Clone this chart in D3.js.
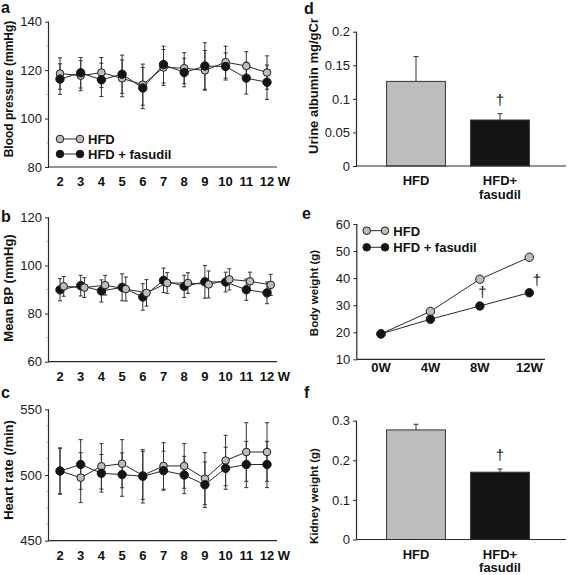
<!DOCTYPE html>
<html><head><meta charset="utf-8">
<script src="https://cdn.jsdelivr.net/npm/d3@7"></script>
<style>
body{margin:0;background:#fff;}
svg{display:block;font-family:"Liberation Sans",Arial,sans-serif;}
</style></head><body>
<script>
// ---------- DATA ----------
const weeks = [2,3,4,5,6,7,8,9,10,11,12];
// a: Blood pressure
const bpHFD = [118.6,117.7,119,116.6,114,121.1,120.8,119.9,123.3,121.7,119];
const bpHFDerr = [6.5,6.2,6.2,7.6,8.5,7.4,6.4,8.2,6.6,5.9,6.9];
const bpFas = [116.3,118.9,116,118.3,112.6,122.3,119,121.7,121.5,116.7,115];
const bpFasErr = [6.3,6.3,6.9,7.9,8.5,7.6,5.9,9.6,5.6,6.6,7.1];
// b: Mean BP
const mbpHFD = [91.3,90.8,91.8,90.2,88.6,92.7,92.7,92.1,94.2,93.4,91.9];
const mbpHFDerr = [4.1,4.1,4.1,5,5.5,4.3,4.3,5.6,4.4,3.8,4.4];
const mbpFas = [89.9,91.6,89.4,90.9,86.9,93.8,91.3,93.2,93.1,89.9,88.6];
const mbpFasErr = [4.6,4.3,4.6,5.6,5.5,5.1,4.6,6.8,4.1,4.4,4.5];
// c: Heart rate
const hrHFD = [503,498,506.6,508.6,499.7,506.9,506.9,497.2,511,517.5,517.5];
const hrHFDerr = [17.5,19,17.3,18.3,18.3,17.7,17,19.8,19.2,22.3,22.3];
const hrFas = [503,508,501.3,500.3,499,503.3,500,492.6,505.1,508,508];
const hrFasErr = [17.5,18.9,14.3,16.5,20.3,14.9,14.2,17.4,16,17.6,17.6];
// d: Urine albumin
const groups = ["HFD","HFD+ fasudil"];
const albumin = [0.126,0.0685];
const albuminErr = [0.037,0.0095];
// e: Body weight
const bwWeeks = ["0W","4W","8W","12W"];
const bwHFD = [19.4,27.7,39.6,47.7];
const bwFas = [19.4,24.8,29.7,34.6];
// f: Kidney weight
const kidney = [0.2767,0.17];
const kidneyErr = [0.0143,0.008];
const seriesNames = ["HFD","HFD + fasudil"];

// ---------- STYLE ----------
const GRAY = "#bdbdbd", BLACK = "#141414", INK = "#2a2a2a";
const W = 568, H = 575;
const svg = d3.select("body").append("svg").attr("width",W).attr("height",H);

function yAxis(g, y, x0, ticks, minor, fmt){
  if(minor){
    g.selectAll(null).data(minor).join("line")
      .attr("x1",x0-3).attr("x2",x0).attr("y1",d=>y(d)).attr("y2",d=>y(d))
      .attr("stroke","#c8c8c8").attr("stroke-width",1);
  }
  const ax = g.append("g").attr("transform",`translate(${x0},0)`)
    .call(d3.axisLeft(y).tickValues(ticks).tickSize(4).tickPadding(3).tickFormat(fmt||(d=>d)));
  ax.select(".domain").attr("stroke",INK).attr("stroke-width",1.2).attr("d",`M-0.5,${y.range()[0]}V${y.range()[1]}`);
  ax.selectAll(".tick line").attr("stroke",INK);
  ax.selectAll("text").attr("font-size",13).attr("fill","#1a1a1a").attr("font-family","Liberation Sans, Arial");
}
function xAxisLine(g, yPix, x1, x2){
  g.append("line").attr("x1",x1).attr("x2",x2).attr("y1",yPix).attr("y2",yPix)
    .attr("stroke",INK).attr("stroke-width",1.2);
}
function yTitle(g, text, x, y, fs){
  g.append("text").attr("transform",`translate(${x},${y}) rotate(-90)`)
    .attr("text-anchor","middle").attr("font-weight","bold").attr("font-size",fs||13).attr("fill","#111").text(text);
}
function panelLabel(text,x,y){
  svg.append("text").attr("x",x).attr("y",y).attr("font-weight","bold").attr("font-size",16).attr("fill","#111").text(text);
}
function dagger(g, x, y){
  g.append("text").attr("x",x).attr("y",y).attr("text-anchor","middle")
    .attr("font-family","Liberation Sans, Arial, sans-serif").attr("font-size",15).attr("fill","#111").text("†");
}

function linePanel(cfg){
  const g = svg.append("g");
  const x = d3.scaleLinear().domain([2,12]).range([60,267]);
  const y = d3.scaleLinear().domain(cfg.dom).range(cfg.range);
  yAxis(g, y, 49, cfg.ticks, cfg.minor);
  xAxisLine(g, cfg.range[0], 48.5, 277);
  g.selectAll(null).data(weeks).join("text")
    .attr("x",d=>x(d)).attr("y",cfg.range[0]+19).attr("text-anchor","middle")
    .attr("font-weight","bold").attr("font-size",13).attr("fill","#111").text(d=>d);
  g.append("text").attr("x",284).attr("y",cfg.range[0]+19).attr("text-anchor","middle")
    .attr("font-weight","bold").attr("font-size",13).attr("fill","#111").text("W");
  const series = [
    {vals:cfg.hfd, err:cfg.hfdErr, fill:GRAY, off:cfg.grayOff||0, r:3.8},
    {vals:cfg.fas, err:cfg.fasErr, fill:BLACK, off:0, r:4.2}
  ];
  const order = cfg.grayTop ? [series[1],series[0]] : series;
  order.forEach(s=>{
    weeks.forEach((w,i)=>{
      const xx = x(w)+s.off, y1 = y(s.vals[i]+s.err[i]), y2 = y(s.vals[i]-s.err[i]);
      g.append("line").attr("x1",xx).attr("x2",xx).attr("y1",y1).attr("y2",y2).attr("stroke","#333").attr("stroke-width",1);
      [y1,y2].forEach(yy=>g.append("line").attr("x1",xx-2).attr("x2",xx+2).attr("y1",yy).attr("y2",yy).attr("stroke","#333").attr("stroke-width",1));
    });
  });
  order.forEach(s=>{
    const line = d3.line().x((d,i)=>x(weeks[i])+s.off).y(d=>y(d));
    g.append("path").attr("d",line(s.vals)).attr("fill","none").attr("stroke",INK).attr("stroke-width",1);
  });
  order.forEach(s=>{
    g.selectAll(null).data(s.vals).join("circle")
      .attr("cx",(d,i)=>x(weeks[i])+s.off).attr("cy",d=>y(d)).attr("r",s.r)
      .attr("fill",s.fill).attr("stroke","#1a1a1a").attr("stroke-width",1);
  });
  return g;
}

function legend(g, x1, x2, tx, y1, y2){
  [[GRAY,y1,seriesNames[0]],[BLACK,y2,seriesNames[1]]].forEach(([c,yy,t])=>{
    g.append("line").attr("x1",x1).attr("x2",x2).attr("y1",yy).attr("y2",yy).attr("stroke",INK).attr("stroke-width",1);
    [x1,x2].forEach(xx=>g.append("circle").attr("cx",xx).attr("cy",yy).attr("r",3.8).attr("fill",c).attr("stroke","#1a1a1a"));
    g.append("text").attr("x",tx).attr("y",yy+5).attr("font-weight","bold").attr("font-size",13).attr("fill","#111").text(t);
  });
}

// Panel a
const ga = linePanel({dom:[80,140], range:[167,21.7], ticks:[80,100,120,140], minor:[90,110,130],
  hfd:bpHFD, hfdErr:bpHFDerr, fas:bpFas, fasErr:bpFasErr});
legend(ga, 60, 80, 88, 139, 154);
yTitle(ga, "Blood pressure (mmHg)", 13, 89, 12);
panelLabel("a", 1, 13);

// Panel b
const gb = linePanel({dom:[60,120], range:[361.7,217.3], ticks:[60,80,100,120], minor:[70,90,110],
  hfd:mbpHFD, hfdErr:mbpHFDerr, fas:mbpFas, fasErr:mbpFasErr, grayOff:3.7, grayTop:true});
yTitle(gb, "Mean BP (mmHg)", 13, 288);
panelLabel("b", 1, 222);

// Panel c
const gc = linePanel({dom:[450,550], range:[540.7,409.3], ticks:[450,500,550], minor:[462.5,475,487.5,512.5,525,537.5],
  hfd:hrHFD, hfdErr:hrHFDerr, fas:hrFas, fasErr:hrFasErr});
yTitle(gc, "Heart rate (/min)", 13, 470);
panelLabel("c", 1, 398);

// Bar panels
function barPanel(cfg){
  const g = svg.append("g");
  const x = d3.scaleBand().domain(groups).range([374,542]).paddingInner(0.3).paddingOuter(0.15);
  const y = d3.scaleLinear().domain(cfg.dom).range(cfg.range);
  yAxis(g, y, 357, cfg.ticks, null, cfg.fmt);
  g.selectAll(null).data(cfg.vals).join("rect")
    .attr("x",(d,i)=>x(groups[i])).attr("width",x.bandwidth())
    .attr("y",d=>y(d)).attr("height",d=>y(0)-y(d))
    .attr("fill",(d,i)=>i===0?GRAY:BLACK).attr("stroke","#333").attr("stroke-width",1);
  cfg.vals.forEach((v,i)=>{
    const xx = x(groups[i])+x.bandwidth()/2, yt = y(v+cfg.err[i]);
    g.append("line").attr("x1",xx).attr("x2",xx).attr("y1",y(v)).attr("y2",yt).attr("stroke","#333");
    g.append("line").attr("x1",xx-2.5).attr("x2",xx+2.5).attr("y1",yt).attr("y2",yt).attr("stroke","#333");
  });
  xAxisLine(g, cfg.range[0], 356.5, 566);
  dagger(g, x(groups[1])+x.bandwidth()/2, y(cfg.vals[1]+cfg.err[1])-9);
  groups.forEach((gname,i)=>{
    const lines = gname.split(" ");
    lines.forEach((t,j)=>g.append("text").attr("x",x(gname)+x.bandwidth()/2).attr("y",cfg.range[0]+19+j*13.5)
      .attr("text-anchor","middle").attr("font-weight","bold").attr("font-size",13).attr("fill","#111").text(t));
  });
  return g;
}
const gd = barPanel({dom:[0,0.2], range:[166,31.7], ticks:[0,0.05,0.1,0.15,0.2], fmt:d=>d===0?"0":String(d),
  vals:albumin, err:albuminErr});
yTitle(gd, "Urine albumin mg/gCr", 318, 86);
panelLabel("d", 304, 14);

const gf = barPanel({dom:[0,0.3], range:[539.5,420.7], ticks:[0,0.1,0.2,0.3], fmt:d=>d===0?"0":String(d),
  vals:kidney, err:kidneyErr});
yTitle(gf, "Kidney weight (g)", 318, 496, 11.5);
panelLabel("f", 304, 398);

// Panel e
(function(){
  const g = svg.append("g");
  const x = d3.scalePoint().domain(bwWeeks).range([381,529.3]);
  const y = d3.scaleLinear().domain([10,60]).range([359.3,224]);
  yAxis(g, y, 357.3, [10,20,30,40,50,60], null);
  xAxisLine(g, 359.3, 357, 545);
  g.selectAll(null).data(bwWeeks).join("text").attr("x",d=>x(d)).attr("y",372).attr("text-anchor","middle")
    .attr("font-weight","bold").attr("font-size",13).attr("fill","#111").text(d=>d);
  [[bwHFD,GRAY],[bwFas,BLACK]].forEach(([vals,c])=>{
    const line = d3.line().x((d,i)=>x(bwWeeks[i])).y(d=>y(d));
    g.append("path").attr("d",line(vals)).attr("fill","none").attr("stroke",INK).attr("stroke-width",1);
  });
  [[bwHFD,GRAY],[bwFas,BLACK]].forEach(([vals,c])=>{
    g.selectAll(null).data(vals).join("circle").attr("cx",(d,i)=>x(bwWeeks[i])).attr("cy",d=>y(d))
      .attr("r",4.2).attr("fill",c).attr("stroke","#1a1a1a");
  });
  dagger(g, x("8W")+2.5, y(bwFas[2])-9);
  dagger(g, x("12W")+7.5, y(bwFas[3])-8);
  legend(g, 366.7, 385, 393.3, 230.7, 247.3);
  yTitle(g, "Body weight (g)", 318, 293, 11.5);
})();
panelLabel("e", 302, 219);
</script>
</body></html>
